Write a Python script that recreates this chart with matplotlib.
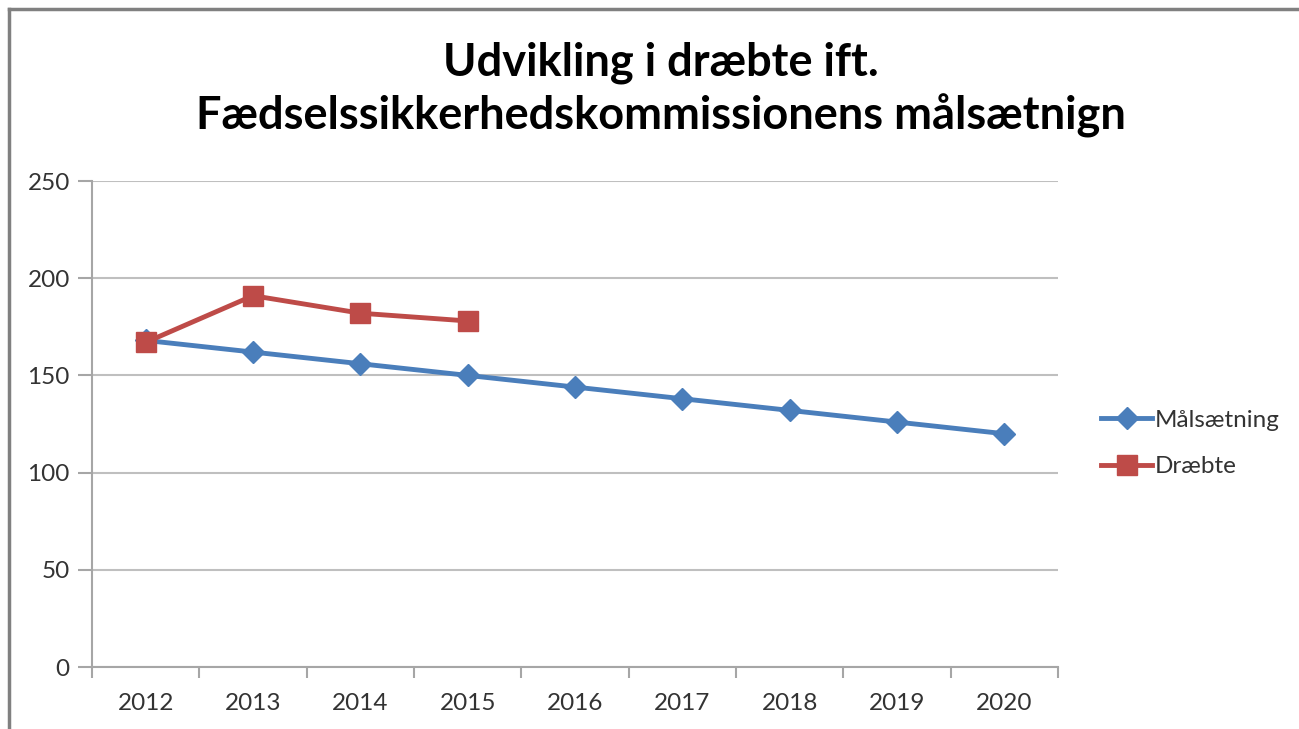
import numpy as np
import matplotlib.pyplot as plt
from matplotlib.lines import Line2D

plt.rcParams['font.family'] = ['Lato', 'DejaVu Sans']

# data
years = ['2012', '2013', '2014', '2015', '2016', '2017', '2018', '2019', '2020']
maal = [168, 162, 156, 150, 144, 138, 132, 126, 120]
draebte = [167, 191, 182, 178]

blue = '#4A7EBB'
red = '#BE4B48'
grid_col = '#BFBFBF'
axis_col = '#A6A6A6'
txt_col = '#333333'

fig = plt.figure(figsize=(12.99, 7.29), dpi=100)
ax = fig.add_axes([92/1299, 1-667/729, (1058-92)/1299, (667-181)/729])

x = np.arange(len(years))
ax.plot(x, maal, color=blue, lw=3.5, marker='D', ms=11, label='Målsætning')
ax.plot(x[:len(draebte)], draebte, color=red, lw=3.5, marker='s', ms=15, label='Dræbte')

ax.set_xlim(-0.5, len(years) - 0.5)
ax.set_ylim(0, 250)
ax.set_yticks(range(0, 251, 50))
ax.set_xticks(x)
ax.set_xticklabels(years)
ax.set_xticks(np.arange(-0.5, len(years), 1), minor=True)
ax.tick_params(axis='x', which='major', length=0, pad=19, labelsize=17.5, colors=txt_col)
ax.tick_params(axis='x', which='minor', length=8, color=axis_col, width=1.5)
ax.tick_params(axis='y', length=10, color=axis_col, width=1.5, pad=6, labelsize=17.5, colors=txt_col)
ax.yaxis.grid(True, color=grid_col, lw=1.5)
ax.set_axisbelow(True)
for s in ['top', 'right']:
    ax.spines[s].set_visible(False)
for s in ['left', 'bottom']:
    ax.spines[s].set_color(axis_col)
    ax.spines[s].set_linewidth(1.5)

ax.legend(loc='center left', bbox_to_anchor=(1.022, 0.46), frameon=False, fontsize=17.5,
          handlelength=2.1, handletextpad=0.1, labelspacing=1.05, labelcolor=txt_col)

fig.text(0.509, 0.877, 'Udvikling i dræbte ift.\nFædselssikkerhedskommissionens målsætnign',
         ha='center', va='center', fontsize=32.5, fontweight='bold', linespacing=1.25)

# frame around chart (top and left visible)
fig.add_artist(Line2D([9/1299, 1], [1-9/729, 1-9/729], color='#808080', lw=2.5))
fig.add_artist(Line2D([9/1299, 9/1299], [0, 1-9/729], color='#808080', lw=2.5))

fig.savefig('out.png', dpi=100)
